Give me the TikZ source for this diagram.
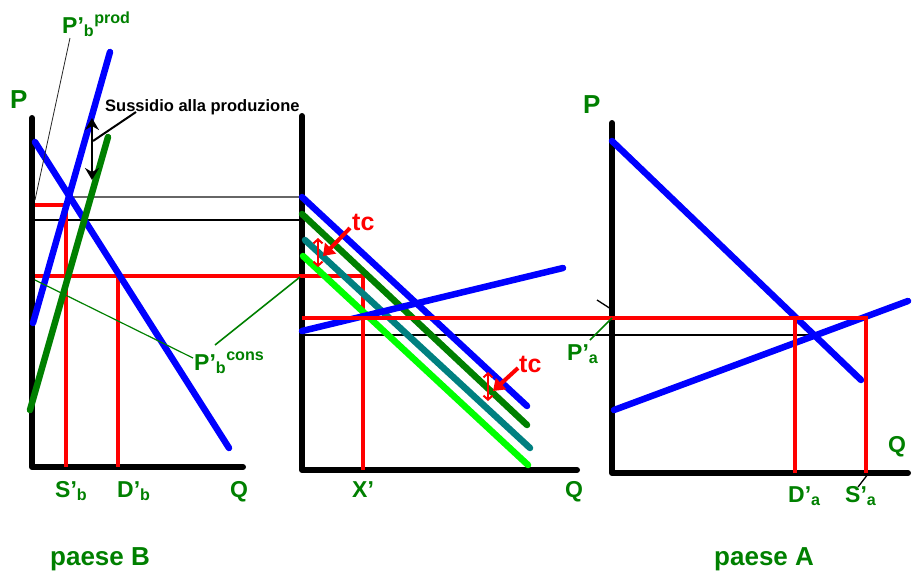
\documentclass[tikz,border=0pt]{standalone}
\usepackage{fontspec}
\setmainfont{Liberation Sans}
\usetikzlibrary{arrows.meta}
\definecolor{dgreen}{RGB}{0,128,0}
\definecolor{tealc}{RGB}{0,128,128}
\definecolor{lgreen}{RGB}{0,255,0}
\begin{document}
\begin{tikzpicture}[x=1pt,y=-1pt,
  axis/.style={line width=6pt, line cap=round, line join=round},
  curve/.style={line width=6.5pt, line cap=round},
  redl/.style={red, line width=3.5pt},
  guide/.style={line width=1.3pt},
  lab/.style={font=\bfseries\fontsize{23}{26}\selectfont, text=dgreen, inner sep=0pt},
  big/.style={font=\bfseries\fontsize{26}{30}\selectfont, text=dgreen, inner sep=0pt},
  tclab/.style={font=\bfseries\fontsize{25}{28}\selectfont, text=red, inner sep=0pt},
  tcarrow/.style={red, line width=4pt, -{Triangle[length=11pt,width=15pt]}},
  tcgap/.style={red, line width=2pt, {Straight Barb[length=4pt,width=9pt]}-{Straight Barb[length=4pt,width=9pt]}}]
\useasboundingbox (0,0) rectangle (912,574);

% ---------- axes ----------
\draw[axis] (32,118) -- (32,467) -- (243,467);
\draw[axis] (302,116) -- (302,470) -- (577,470);
\draw[axis] (612,123) -- (612,473) -- (908,473);

% ---------- guide lines ----------
\draw[guide, black!60] (68,197) -- (302,197);
\draw[guide] (35,220) -- (302,220);
\draw[guide] (302,335) -- (815,335);

% ---------- red lines, left ----------
\draw[redl] (35,205) -- (66,205) -- (66,467);
\draw[redl] (35,276) -- (363,276) -- (363,470);
\draw[redl] (118,276) -- (118,467);

% ---------- curves, left (paese B) ----------
\draw[curve, blue] (35,142) -- (229,448);
\draw[curve, blue] (110,52) -- (33,323);
\draw[curve, dgreen] (108,137) -- (30,410);

% ---------- curves, middle ----------
\draw[curve, blue] (302,197) -- (527,406);
\draw[curve, dgreen] (302,214) -- (527,425);
\draw[curve, tealc] (305,240) -- (530,448);
\draw[curve, lgreen] (303,256) -- (528,465);
\draw[curve, blue] (302,331) -- (563,268);

% ---------- curves, right (paese A) ----------
\draw[curve, blue] (612,141) -- (861,380);
\draw[curve, blue] (614,410) -- (908,301);

% ---------- red lines, middle/right ----------
\draw[redl] (302,318) -- (866,318) -- (866,473);
\draw[redl] (795,318) -- (795,473);

% ---------- subsidy arrow ----------
\node[font=\bfseries\fontsize{16.5}{19}\selectfont, inner sep=0pt, anchor=base west] (sus) at (105,111) {Sussidio alla produzione};
\coordinate (subtop) at (92,118);
\coordinate (subbot) at (92,180);
\coordinate (subleadA) at (136,112);
\coordinate (subleadB) at (93,141);
\draw[line width=2.5pt, {Stealth[length=12pt,width=14pt,inset=4pt]}-{Stealth[length=12pt,width=14pt,inset=4pt]}] (subtop) -- (subbot);
\draw[line width=2pt] (subleadA) -- (subleadB);

% ---------- tc arrows ----------
\node[tclab, anchor=base west] (tc1) at (352,230) {tc};
\node[tclab, anchor=base west] (tc2) at (519,372) {tc};
\coordinate (tc1a) at (350,228);
\coordinate (tc1b) at (323,256);
\coordinate (tc2a) at (518,368);
\coordinate (tc2b) at (493,391);
\draw[tcarrow] (tc1a) -- (tc1b);
\draw[tcarrow] (tc2a) -- (tc2b);
\coordinate (g1t) at (318,238);
\coordinate (g1b) at (318,267);
\coordinate (g2t) at (488,372);
\coordinate (g2b) at (488,401);
\draw[tcgap] (g1t) -- (g1b);
\draw[tcgap] (g2t) -- (g2b);

% ---------- labels, left ----------
\node[big, anchor=base west] (pL) at (10,108) {P};
\node[lab, anchor=base west] (pprod) at (62,33) {P’\textsubscript{b}\textsuperscript{prod}};
\coordinate (pprodA) at (70,38);
\coordinate (pprodB) at (35,200);
\draw[line width=0.8pt, black!85] (pprodA) -- (pprodB);
\node[lab, anchor=base west] (pcons) at (194,370) {P’\textsubscript{b}\textsuperscript{cons}};
\coordinate (pconsA) at (193,358);
\coordinate (pconsB) at (35,280);
\coordinate (pconsC) at (215,345);
\coordinate (pconsD) at (300,277);
\draw[line width=1.2pt, dgreen] (pconsA) -- (pconsB);
\draw[line width=1.6pt, dgreen] (pconsC) -- (pconsD);
\node[lab, anchor=base west] (sb) at (55,497) {S’\textsubscript{b}};
\node[lab, anchor=base west] (db) at (117,497) {D’\textsubscript{b}};
\node[lab, anchor=base west] (qL) at (230,497) {Q};
\node[big, anchor=base west] (paeseB) at (50,565) {paese B};

% ---------- labels, middle ----------
\node[lab, anchor=base west] (xp) at (352,497) {X’};
\node[lab, anchor=base west] (qM) at (565,497) {Q};

% ---------- labels, right ----------
\node[big, anchor=base west] (pR) at (583,113) {P};
\node[lab, anchor=base west] (pa) at (567,360) {P’\textsubscript{a}};
\coordinate (paA) at (590,340);
\coordinate (paB) at (612,318);
\draw[line width=1.5pt, dgreen] (paA) -- (paB);
\coordinate (tickA) at (597,300);
\coordinate (tickB) at (611,309);
\draw[line width=1.3pt] (tickA) -- (tickB);
\node[lab, anchor=base west] (da) at (788,502) {D’\textsubscript{a}};
\node[lab, anchor=base west] (sa) at (845,502) {S’\textsubscript{a}};
\coordinate (saA) at (858,487);
\coordinate (saB) at (868,474);
\draw[line width=1.3pt] (saA) -- (saB);
\node[lab, anchor=base west] (qR) at (888,452) {Q};
\node[big, anchor=base west] (paeseA) at (714,565) {paese A};
\end{tikzpicture}
\end{document}
